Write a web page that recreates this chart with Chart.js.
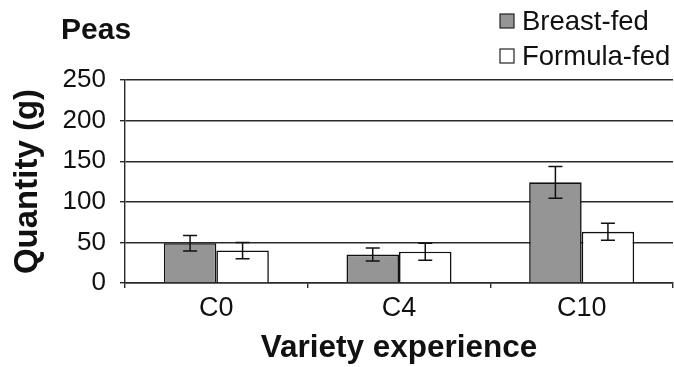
<!DOCTYPE html>
<html>
<head>
<meta charset="utf-8">
<script src="https://cdn.jsdelivr.net/npm/chart.js@4.4.1/dist/chart.umd.min.js"></script>
<style>
html, body { margin: 0; padding: 0; background: #fff; }
#wrap { width: 674px; height: 367px; }
</style>
</head>
<body>
<div id="wrap"><canvas id="peasChart"></canvas></div>
<script>
const categories = ['C0', 'C4', 'C10']
const breastFed = [49, 35, 124]
const breastFedErr = [9.5, 8, 19.5]
const formulaFed = [40, 38.5, 63]
const formulaFedErr = [10, 10.5, 10.5]
const yTicks = [0, 50, 100, 150, 200, 250]

const lineColor = '#2a2a2a'
const textColor = '#111'
const fontFamily = "'Liberation Sans', Arial, sans-serif"

// error bars, drawn on top of the bars
const errorBars = {
    id: 'errorBars',
    afterDatasetsDraw(chart) {
        const ctx = chart.ctx
        const y = chart.scales.y
        chart.data.datasets.forEach((ds, i) => {
            const meta = chart.getDatasetMeta(i)
            meta.data.forEach((bar, j) => {
                const v = ds.data[j]
                const e = ds.errors[j]
                const top = y.getPixelForValue(v + e)
                const bottom = y.getPixelForValue(v - e)
                ctx.save()
                ctx.strokeStyle = '#111'
                ctx.lineWidth = 1.5
                ctx.beginPath()
                ctx.moveTo(bar.x, top)
                ctx.lineTo(bar.x, bottom)
                ctx.moveTo(bar.x - 7, top)
                ctx.lineTo(bar.x + 7, top)
                ctx.moveTo(bar.x - 7, bottom)
                ctx.lineTo(bar.x + 7, bottom)
                ctx.stroke()
                ctx.restore()
            })
        })
    }
}

// "Peas" heading and the stacked legend at the top right
const header = {
    id: 'header',
    afterDraw(chart) {
        const ctx = chart.ctx
        ctx.save()
        ctx.fillStyle = textColor
        ctx.textBaseline = 'middle'
        ctx.textAlign = 'left'
        ctx.font = 'bold 30px ' + fontFamily
        ctx.fillText('Peas', 61, 31)

        ctx.font = '27.5px ' + fontFamily
        const rows = [21, 56]
        chart.data.datasets.forEach((ds, i) => {
            const cy = rows[i]
            ctx.fillStyle = ds.backgroundColor
            ctx.fillRect(500, cy - 7, 14, 14)
            ctx.strokeStyle = '#222'
            ctx.lineWidth = 1.2
            ctx.strokeRect(500, cy - 7, 14, 14)
            ctx.fillStyle = textColor
            ctx.fillText(ds.label, 522, cy + 1)
        })
        ctx.restore()
    }
}

const ctx = document.getElementById('peasChart').getContext('2d')
new Chart(ctx, {
    type: 'bar',
    data: {
        labels: categories,
        datasets: [
            {
                label: 'Breast-fed',
                data: breastFed,
                errors: breastFedErr,
                backgroundColor: '#959595',
                borderColor: '#111',
                borderWidth: 1.6,
                categoryPercentage: 0.575,
                barPercentage: 1
            },
            {
                label: 'Formula-fed',
                data: formulaFed,
                errors: formulaFedErr,
                backgroundColor: '#ffffff',
                borderColor: '#111',
                borderWidth: 1.6,
                categoryPercentage: 0.575,
                barPercentage: 1
            }
        ]
    },
    options: {
        responsive: true,
        maintainAspectRatio: false,
        animation: false,
        layout: {
            padding: { top: 80, right: 1, left: 0, bottom: 0 }
        },
        plugins: {
            legend: { display: false },
            tooltip: { enabled: false }
        },
        scales: {
            x: {
                grid: {
                    offset: true,
                    drawOnChartArea: true,
                    color: (c) => c.index === categories.length ? lineColor : 'rgba(0,0,0,0)',
                    lineWidth: 1.4,
                    tickColor: lineColor,
                    tickWidth: 1.4,
                    tickLength: 5
                },
                border: { display: true, color: lineColor, width: 1.4 },
                ticks: {
                    color: textColor,
                    padding: 4,
                    font: { family: fontFamily, size: 27 }
                },
                title: {
                    display: true,
                    text: 'Variety experience',
                    color: textColor,
                    padding: { top: 0, bottom: 0 },
                    font: { family: fontFamily, size: 31.5, weight: 'bold' }
                },
                afterFit(scale) { scale.height = 84 }
            },
            y: {
                min: 0,
                max: 250,
                afterBuildTicks(scale) {
                    scale.ticks = yTicks.map(v => ({ value: v }))
                },
                grid: {
                    color: lineColor,
                    lineWidth: 1.4,
                    tickLength: 5
                },
                border: { display: true, color: lineColor, width: 1.4 },
                ticks: {
                    color: textColor,
                    padding: 14,
                    font: { family: fontFamily, size: 26 }
                },
                title: {
                    display: true,
                    text: 'Quantity (g)',
                    color: textColor,
                    padding: { top: 8, bottom: 0 },
                    font: { family: fontFamily, size: 33, weight: 'bold' }
                },
                afterFit(scale) { scale.width = 125 }
            }
        }
    },
    plugins: [errorBars, header]
})
</script>
</body>
</html>
